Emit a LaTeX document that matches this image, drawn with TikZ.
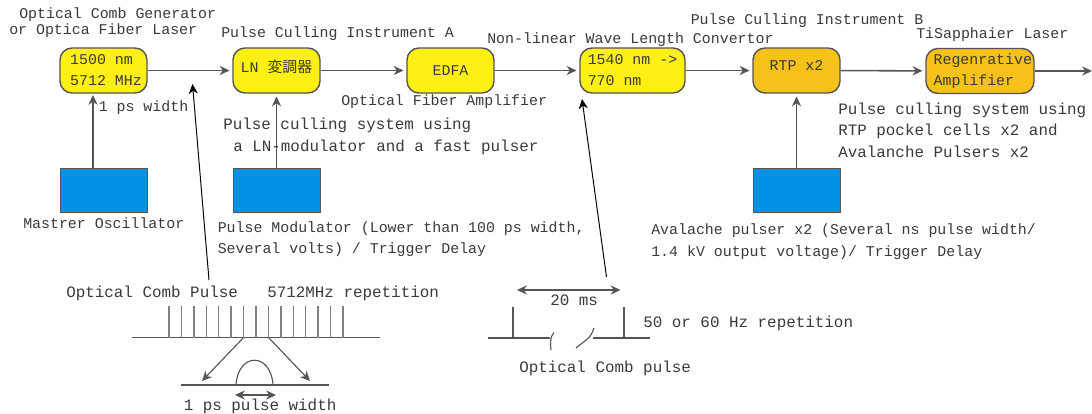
\documentclass[tikz,border=0pt]{standalone}
\usepackage{fontspec}
\usetikzlibrary{arrows.meta}
\setmonofont{Liberation Mono}
\newfontfamily\cjk{Noto Sans CJK JP}
\definecolor{boxyellow}{HTML}{FFF014}
\definecolor{boxorange}{HTML}{F6C118}
\definecolor{boxblue}{HTML}{0092E8}
\definecolor{ink}{HTML}{3A3A3A}
\definecolor{edgegray}{HTML}{555555}
\begin{document}
\begin{tikzpicture}[x=0.025cm, y=-0.025cm, >={Stealth[length=7pt,width=6.5pt]},
    stage/.style={draw=edgegray, line width=1pt, rounded corners=0.3cm, fill=boxyellow, text=ink, inner sep=0pt,
        minimum width=2.175cm, minimum height=1.125cm, align=left, font=\ttfamily\fontsize{10.6}{15}\selectfont},
    driver/.style={draw=edgegray, fill=boxblue, inner sep=0pt, minimum width=2.175cm, minimum height=1.1cm},
    label15/.style={anchor=base west, inner sep=0pt, text=ink, font=\ttfamily\fontsize{10.6}{13}\selectfont},
    label16/.style={anchor=base west, inner sep=0pt, text=ink, font=\ttfamily\fontsize{11.3}{13}\selectfont},
    beam/.style={->, color=edgegray, line width=1.1pt, shorten >=2pt},
    trace/.style={draw=edgegray, line width=0.8pt}]

    \path[use as bounding box, fill=white] (0,0) rectangle (1092,414);

    \node [stage] (laser) at (103.5,70.5) {\hspace*{3.5pt}1500 nm\\\hspace*{3.5pt}5712 MHz};
    \node [stage] (lnmod) at (276.5,70.5) {\raisebox{6pt}{LN {\cjk 変調器}}};
    \node [stage] (edfa) at (450.5,70.5) {EDFA};
    \node [stage, minimum width=2.625cm] (conv) at (632.5,70.5) {1540 nm ->\\770 nm};
    \node [stage, fill=boxorange] (rtp) at (796.5,70.5) {\raisebox{7pt}{RTP x2}};
    \node [stage, fill=boxorange, minimum width=2.7cm] (regen) at (980,71) {\hspace*{4pt}Regenrative\\\hspace*{4pt}Amplifier};

    \node [driver] (osc) at (103.5,190) {};
    \node [driver] (modulator) at (276.5,190) {};
    \node [driver] (avalanche) at (796.5,190) {};

    \coordinate (out) at (1092,71);
    \coordinate (osctail) at (93,168);
    \coordinate (osctip) at (93,95);
    \coordinate (combtip) at (192.5,84);
    \coordinate (combtail) at (209,280);
    \coordinate (gatetip) at (582,99);
    \coordinate (gatetail) at (606.5,277);

    \path[beam]
      (laser) edge (lnmod)
      (lnmod) edge (edfa)
      (edfa) edge (conv)
      (conv) edge (rtp)
      (rtp) edge (regen)
      (regen) edge[shorten >=0pt] (out)
      (osctail) edge[shorten >=0pt] (osctip)
      (modulator) edge (lnmod)
      (avalanche) edge (rtp);
    \path[->, color=black, line width=0.7pt]
      (combtail) edge (combtip)
      (gatetail) edge (gatetip);

    \node [label15] (t1) at (19,18) {Optical Comb Generator};
    \node [label15] (t2) at (9,34) {or Optica Fiber Laser};
    \node [label15] (t3) at (221,37) {Pulse Culling Instrument A};
    \node [label15] (t4) at (487,43) {Non-linear Wave Length Convertor};
    \node [label15] (t5) at (690.5,24) {Pulse Culling Instrument B};
    \node [label15] (t6) at (916,38.5) {TiSapphaier Laser};
    \node [label15] (t7) at (98.5,111) {1 ps width};
    \node [label15] (t8) at (341,105) {Optical Fiber Amplifier};
    \node [label16] (t9) at (223,129) {Pulse culling system using};
    \node [label16] (t10) at (233,151) {a LN-modulator and a fast pulser};
    \node [label16] (t11) at (838,114) {Pulse culling system using};
    \node [label16] (t12) at (838,135) {RTP pockel cells x2 and};
    \node [label16] (t13) at (838,157) {Avalanche Pulsers x2};
    \node [label15] (t14) at (23,228) {Mastrer Oscillator};
    \node [label15] (t15) at (217.5,232) {Pulse Modulator (Lower than 100 ps width,};
    \node [label15] (t16) at (217.5,253) {Several volts) / Trigger Delay};
    \node [label15] (t17) at (651,234) {Avalache pulser x2 (Several ns pulse width/};
    \node [label15] (t18) at (651,256) {1.4 kV output voltage)/ Trigger Delay};
    \node [label16] (t19) at (66,297) {Optical Comb Pulse};
    \node [label16] (t20) at (267,297) {5712MHz repetition};
    \node [label16] (t21) at (183.5,410.5) {1 ps pulse width};
    \node [label16] (t22) at (550,305) {20 ms};
    \node [label16] (t23) at (643,327) {50 or 60 Hz repetition};
    \node [label16] (t24) at (519,372) {Optical Comb pulse};

    % fast comb
    \coordinate (a1) at (132,337.5);
    \coordinate (a2) at (379.5,337.5);
    \draw[trace] (a1) -- (a2);
    \foreach \i in {0,...,14}
      \draw[trace, draw=gray, line width=1pt] (169+\i*12.43,337.5) -- (169+\i*12.43,306);
    \coordinate (c1) at (243.6,337.5);
    \coordinate (c2) at (268.5,337.5);
    \coordinate (c3) at (202,381);
    \coordinate (c4) at (310,381);
    \path[->, color=edgegray, line width=0.8pt] (c1) edge (c3) (c2) edge (c4);

    % single pulse
    \coordinate (b1) at (180.5,385);
    \coordinate (b2) at (329,385);
    \coordinate (p1) at (236,385);
    \coordinate (p2) at (273,385);
    \draw[trace] (b1) -- (b2);
    \draw[trace] (p1) .. controls (238,352) and (271,352) .. (p2);
    \coordinate (w1) at (235,395);
    \coordinate (w2) at (276,395);
    \draw[<->, trace] (w1) -- (w2);

    % 50 Hz train
    \coordinate (g1) at (517,290);
    \coordinate (g2) at (620.5,290);
    \draw[<->, trace] (g1) -- (g2);
    \coordinate (s1) at (488,338);
    \coordinate (s2) at (550,338);
    \coordinate (s3) at (593,338);
    \coordinate (s4) at (649.5,338);
    \draw[trace] (s1) -- (s2);
    \draw[trace] (s3) -- (s4);
    \draw[trace] (513,338) -- (513,306.5);
    \draw[trace] (624,338) -- (624,306.5);
    \draw[trace] (554,332.5) .. controls (550,337) and (550,344) .. (551,350);
    \draw[trace] (594,328) .. controls (590,340) and (585,340) .. (576,348);
\end{tikzpicture}
\end{document}
